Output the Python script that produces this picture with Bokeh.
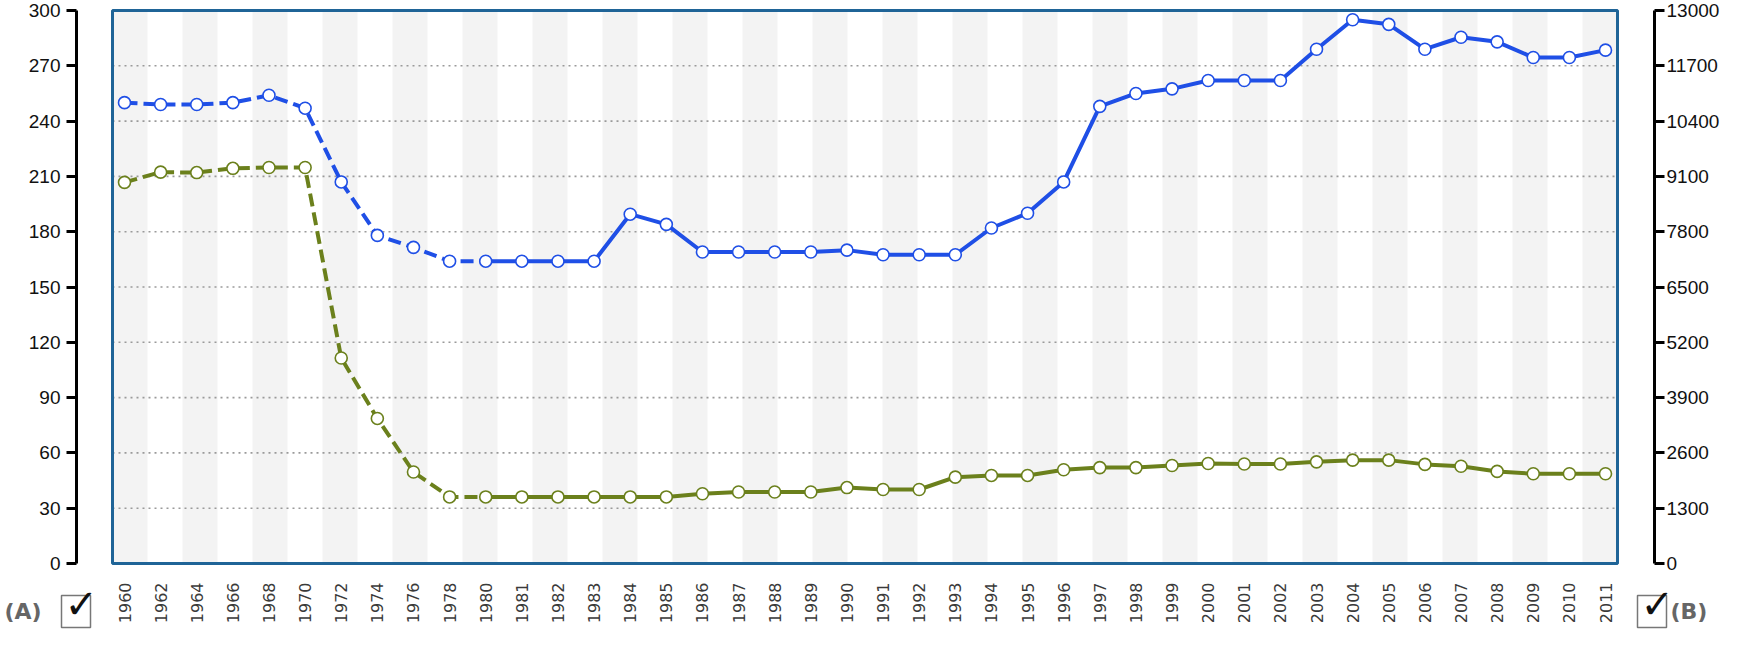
import math
import numpy as np
from bokeh.plotting import figure
from bokeh.models import Range1d, LinearAxis, FixedTicker, BoxAnnotation, Label
from bokeh.embed import file_html
from bokeh.resources import INLINE

# ---------------- data ----------------
years = ["1960", "1962", "1964", "1966", "1968", "1970", "1972", "1974", "1976", "1978",
         "1980", "1981", "1982", "1983", "1984", "1985", "1986", "1987", "1988", "1989",
         "1990", "1991", "1992", "1993", "1994", "1995", "1996", "1997", "1998", "1999",
         "2000", "2001", "2002", "2003", "2004", "2005", "2006", "2007", "2008", "2009",
         "2010", "2011"]

# series A (left axis)
series_a = [250, 249, 249, 250, 254, 247, 207, 178, 171.5, 164,
            164, 164, 164, 164, 189.5, 184, 169, 169, 169, 169,
            170, 167.5, 167.5, 167.5, 182, 190, 207, 248, 255, 257.5,
            262, 262, 262, 279, 295, 292.5, 279, 285.5, 283, 274.5,
            274.5, 278.5]

# series B (right axis)
series_b = [8960, 9200, 9190, 9290, 9310, 9310, 4830, 3410, 2150, 1565,
            1565, 1565, 1565, 1565, 1565, 1565, 1640, 1680, 1680, 1680,
            1785, 1740, 1740, 2030, 2070, 2070, 2205, 2255, 2255, 2305,
            2350, 2340, 2340, 2390, 2430, 2430, 2330, 2285, 2165, 2110,
            2110, 2110]

left_ticks = list(range(0, 301, 30))
right_ticks = list(range(0, 13001, 1300))
dashed_until = "1980"   # first solid point

# ---------------- styles / layout ----------------
BLUE = "#1f4fe6"
GREEN = "#6b801c"
FRAME = "#1f6497"

W, H = 1733, 630          # canvas; page offset 8px
OFF = 8
# pixel anchors on the page
X_FIRST, X_LAST = 132, 1613      # first / last category centre
Y_TOP, Y_ZERO = 18, 571          # value 300 / value 0
X_LSPINE, X_RSPINE = 84, 1662    # axis lines
X_BOXL, X_BOXR = 120, 1625       # blue frame

idx = list(range(len(years)))
cut = years.index(dashed_until)
n = len(years)
ppx = (X_FIRST - X_LAST) / (0 - (n - 1))          # px per category
ppy = (Y_ZERO - Y_TOP) / left_ticks[-1]           # px per left unit
rfac = right_ticks[-1] / left_ticks[-1]

def dx(px):
    return (px - X_FIRST) / ppx

def dy(py):
    return (Y_ZERO - py) / ppy

x0, x1 = dx(OFF), dx(OFF + W)
y0, y1 = dy(OFF + H), dy(OFF)

p = figure(width=W, height=H,
           x_range=Range1d(x0, x1), y_range=Range1d(y0, y1),
           output_backend="svg", toolbar_location=None,
           min_border=0, min_border_left=0, min_border_right=0,
           min_border_top=0, min_border_bottom=0)
p.extra_y_ranges = {"right": Range1d(y0 * rfac, y1 * rfac)}
p.xgrid.visible = False
p.ygrid.visible = False
p.outline_line_color = None
p.background_fill_color = "white"
p.border_fill_color = "white"

box_l, box_r = dx(X_BOXL), dx(X_BOXR)

# stripes
edges = np.linspace(box_l, box_r, 44)
p.quad(left=edges[:-1:2], right=edges[1::2], bottom=0, top=left_ticks[-1],
       fill_color="#f3f3f3", line_color=None, level="underlay")

# grid lines inside the box
g = left_ticks[1:-1]
p.segment(x0=[box_l] * len(g), x1=[box_r] * len(g), y0=g, y1=g,
          line_color="#9a9a9a", line_width=1.6, line_dash="2 4")

p.add_layout(BoxAnnotation(left=box_l, right=box_r, bottom=0, top=left_ticks[-1],
                           fill_color=None, fill_alpha=0,
                           line_color=FRAME, line_alpha=1.0, line_width=3))

# series A
p.line(idx[:cut + 1], series_a[:cut + 1], line_color=BLUE, line_width=4, line_dash="13 6")
p.line(idx[cut:], series_a[cut:], line_color=BLUE, line_width=4)
p.scatter(idx, series_a, size=12, fill_color="white", line_color=BLUE, line_width=1.6)

# series B
p.line(idx[:cut + 1], series_b[:cut + 1], line_color=GREEN, line_width=4, line_dash="13 6",
       y_range_name="right")
p.line(idx[cut:], series_b[cut:], line_color=GREEN, line_width=4, y_range_name="right")
p.scatter(idx, series_b, size=12, fill_color="white", line_color=GREEN, line_width=1.6,
          y_range_name="right")

# axes
def style_y(ax, standoff):
    ax.axis_line_width = 3
    ax.axis_line_color = "black"
    ax.major_tick_out = 10
    ax.major_tick_in = 0
    ax.major_tick_line_width = 3
    ax.major_tick_line_color = "black"
    ax.minor_tick_out = 0
    ax.minor_tick_in = 0
    ax.major_label_text_font = "Liberation Sans"
    ax.major_label_text_font_size = "19px"
    ax.major_label_text_color = "#111111"
    ax.major_label_standoff = standoff

ya = p.yaxis[0]
ya.ticker = FixedTicker(ticks=left_ticks)
ya.bounds = (left_ticks[0], left_ticks[-1])
ya.fixed_location = dx(X_LSPINE)
style_y(ya, 6)

ra = LinearAxis(y_range_name="right", ticker=FixedTicker(ticks=right_ticks))
ra.bounds = (right_ticks[0], right_ticks[-1])
ra.fixed_location = dx(X_RSPINE)
style_y(ra, 2)
p.add_layout(ra, "right")

xa = p.xaxis[0]
xa.ticker = FixedTicker(ticks=idx)
xa.major_label_overrides = {i: y for i, y in enumerate(years)}
xa.fixed_location = 0
xa.axis_line_color = None
xa.major_tick_line_color = None
xa.minor_tick_line_color = None
xa.major_tick_in = 0
xa.major_tick_out = 0
xa.major_label_orientation = math.pi / 2
xa.major_label_text_font = "DejaVu Sans"
xa.major_label_text_font_size = "16px"
xa.major_label_text_color = "#3a3a3a"
xa.major_label_standoff = 19

# (A) / (B) check boxes
def lab(px, py, text, **kw):
    p.add_layout(Label(x=dx(px), y=dy(py), text=text,
                       text_baseline="middle", text_align="left", **kw))

lab(12, 619, "(A)", text_font="DejaVu Sans", text_font_style="bold",
    text_font_size="22px", text_color="#666666")
lab(69, 619, "\u2003", text_font_size="25px",
    border_line_color="#777777", border_line_width=1.5, padding=2)
lab(72, 611, "\u2713", text_font="DejaVu Sans", text_font_size="40px",
    text_color="#111111")

lab(1645, 619, "\u2003", text_font_size="25px",
    border_line_color="#777777", border_line_width=1.5, padding=2)
lab(1648, 611, "\u2713", text_font="DejaVu Sans", text_font_size="40px",
    text_color="#111111")
lab(1678, 619, "(B)", text_font="DejaVu Sans", text_font_style="bold",
    text_font_size="22px", text_color="#666666")

open("out.html", "w").write(file_html(p, INLINE))
